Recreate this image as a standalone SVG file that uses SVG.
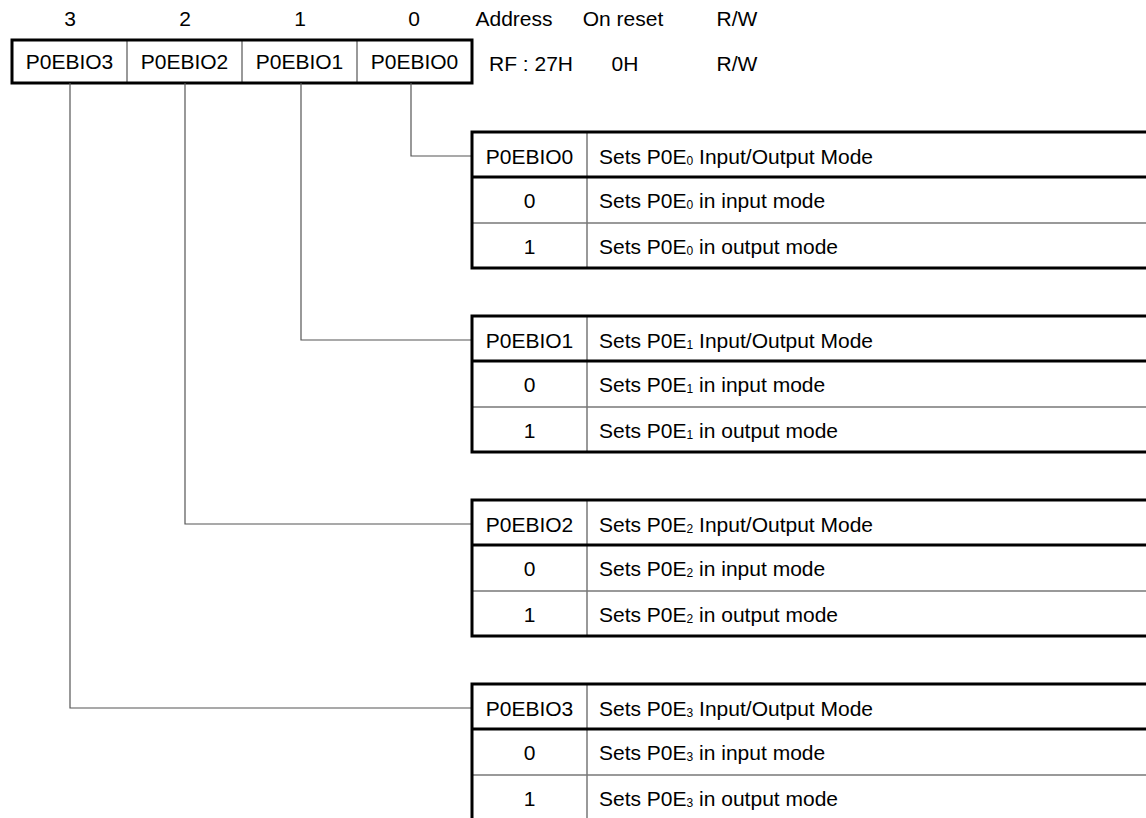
<svg xmlns="http://www.w3.org/2000/svg" width="1146" height="818" viewBox="0 0 1146 818">
<style>
text{font-family:"Liberation Sans",Arial,sans-serif;font-size:21px;fill:#000}
.c{text-anchor:middle}
.sub{font-size:12px}
.thick{stroke:#000;stroke-width:3;fill:none}
.thin{stroke:#777;stroke-width:1.5;fill:none}
.conn{stroke:#555;stroke-width:1.2;fill:none}
</style>
<rect width="1146" height="818" fill="#fff"/>
<g id="header">
<text class="c" x="70" y="26">3</text>
<text class="c" x="185" y="26">2</text>
<text class="c" x="300" y="26">1</text>
<text class="c" x="414" y="26">0</text>
<text class="c" x="514" y="26">Address</text>
<text class="c" x="623" y="26">On reset</text>
<text class="c" x="737" y="26">R/W</text>
<text class="c" x="531" y="71">RF : 27H</text>
<text class="c" x="625" y="71">0H</text>
<text class="c" x="737" y="71">R/W</text>
</g>
<g id="register">
<line class="thin" x1="127" y1="40" x2="127" y2="83"/>
<line class="thin" x1="242" y1="40" x2="242" y2="83"/>
<line class="thin" x1="357" y1="40" x2="357" y2="83"/>
<rect class="thick" x="12" y="40" width="460" height="43"/>
<text class="c" x="69.5" y="69">P0EBIO3</text>
<text class="c" x="184.5" y="69">P0EBIO2</text>
<text class="c" x="299.5" y="69">P0EBIO1</text>
<text class="c" x="414.5" y="69">P0EBIO0</text>
</g>
<g id="connectors">
<polyline class="conn" points="411,83 411,156 472,156"/>
<polyline class="conn" points="301,83 301,340 472,340"/>
<polyline class="conn" points="185,83 185,524 472,524"/>
<polyline class="conn" points="70,83 70,708 472,708"/>
</g>
<g id="table0">
<line class="thin" x1="587" y1="132" x2="587" y2="268"/>
<line class="thin" x1="472" y1="223" x2="1146" y2="223"/>
<line class="thick" x1="472" y1="177" x2="1146" y2="177"/>
<polyline class="thick" points="1146,132 472,132 472,268 1146,268"/>
<text class="c" x="529.5" y="164">P0EBIO0</text>
<text x="599" y="164">Sets P0E<tspan class="sub" dy="1">0</tspan><tspan dy="-1"> Input/Output Mode</tspan></text>
<text class="c" x="529.5" y="208">0</text>
<text x="599" y="208">Sets P0E<tspan class="sub" dy="1">0</tspan><tspan dy="-1"> in input mode</tspan></text>
<text class="c" x="529.5" y="254">1</text>
<text x="599" y="254">Sets P0E<tspan class="sub" dy="1">0</tspan><tspan dy="-1"> in output mode</tspan></text>
</g>
<g id="table1">
<line class="thin" x1="587" y1="316" x2="587" y2="452"/>
<line class="thin" x1="472" y1="407" x2="1146" y2="407"/>
<line class="thick" x1="472" y1="361" x2="1146" y2="361"/>
<polyline class="thick" points="1146,316 472,316 472,452 1146,452"/>
<text class="c" x="529.5" y="348">P0EBIO1</text>
<text x="599" y="348">Sets P0E<tspan class="sub" dy="1">1</tspan><tspan dy="-1"> Input/Output Mode</tspan></text>
<text class="c" x="529.5" y="392">0</text>
<text x="599" y="392">Sets P0E<tspan class="sub" dy="1">1</tspan><tspan dy="-1"> in input mode</tspan></text>
<text class="c" x="529.5" y="438">1</text>
<text x="599" y="438">Sets P0E<tspan class="sub" dy="1">1</tspan><tspan dy="-1"> in output mode</tspan></text>
</g>
<g id="table2">
<line class="thin" x1="587" y1="500" x2="587" y2="636"/>
<line class="thin" x1="472" y1="591" x2="1146" y2="591"/>
<line class="thick" x1="472" y1="545" x2="1146" y2="545"/>
<polyline class="thick" points="1146,500 472,500 472,636 1146,636"/>
<text class="c" x="529.5" y="532">P0EBIO2</text>
<text x="599" y="532">Sets P0E<tspan class="sub" dy="1">2</tspan><tspan dy="-1"> Input/Output Mode</tspan></text>
<text class="c" x="529.5" y="576">0</text>
<text x="599" y="576">Sets P0E<tspan class="sub" dy="1">2</tspan><tspan dy="-1"> in input mode</tspan></text>
<text class="c" x="529.5" y="622">1</text>
<text x="599" y="622">Sets P0E<tspan class="sub" dy="1">2</tspan><tspan dy="-1"> in output mode</tspan></text>
</g>
<g id="table3">
<line class="thin" x1="587" y1="684" x2="587" y2="820"/>
<line class="thin" x1="472" y1="775" x2="1146" y2="775"/>
<line class="thick" x1="472" y1="729" x2="1146" y2="729"/>
<polyline class="thick" points="1146,684 472,684 472,820"/>
<text class="c" x="529.5" y="716">P0EBIO3</text>
<text x="599" y="716">Sets P0E<tspan class="sub" dy="1">3</tspan><tspan dy="-1"> Input/Output Mode</tspan></text>
<text class="c" x="529.5" y="760">0</text>
<text x="599" y="760">Sets P0E<tspan class="sub" dy="1">3</tspan><tspan dy="-1"> in input mode</tspan></text>
<text class="c" x="529.5" y="806">1</text>
<text x="599" y="806">Sets P0E<tspan class="sub" dy="1">3</tspan><tspan dy="-1"> in output mode</tspan></text>
</g>
</svg>
